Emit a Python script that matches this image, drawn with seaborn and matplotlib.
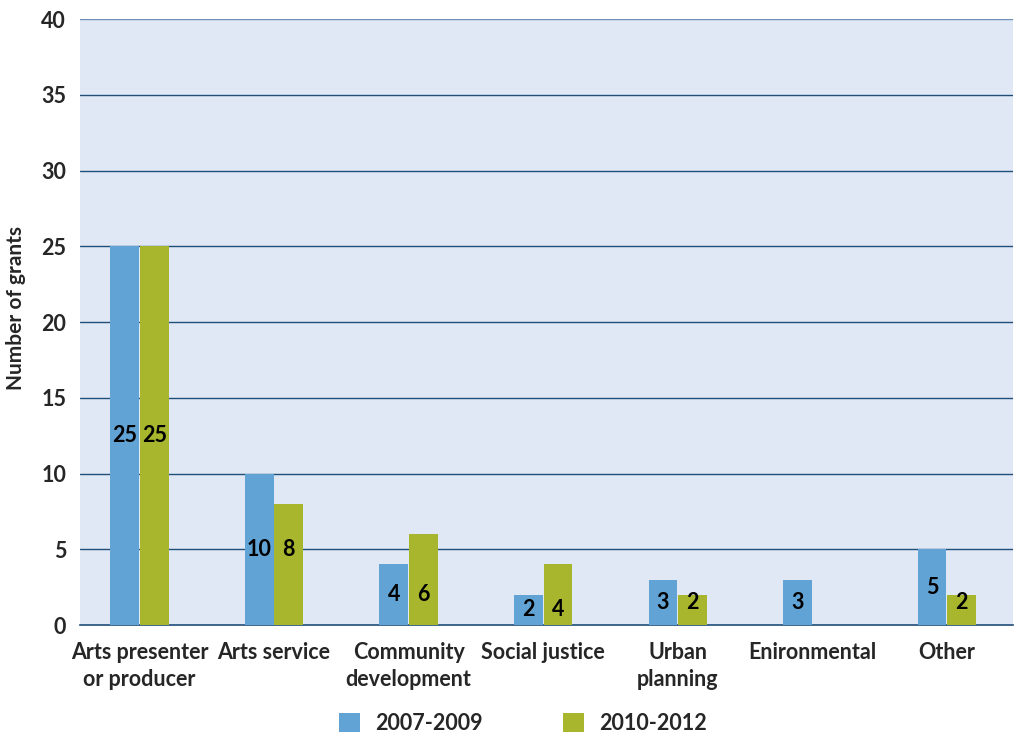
import numpy as np
import pandas as pd
import matplotlib.pyplot as plt
import seaborn as sns

categories = ["Arts presenter\nor producer", "Arts service", "Community\ndevelopment",
              "Social justice", "Urban\nplanning", "Enironmental", "Other"]
grants_0709 = [25, 10, 4, 2, 3, 3, 5]
grants_1012 = [25, 8, 6, 4, 2, np.nan, 2]
periods = ["2007-2009", "2010-2012"]

df = pd.DataFrame({
    "Category": categories * 2,
    "Period": [periods[0]] * len(categories) + [periods[1]] * len(categories),
    "Grants": grants_0709 + grants_1012,
})

sns.set_style("white")
plt.rcParams["font.family"] = ["Lato", "DejaVu Sans"]
fs = 15.5

fig = plt.figure(figsize=(10.26, 7.38), dpi=100)
ax = fig.add_axes([0.078, 0.153, 0.909, 0.821])
ax.set_facecolor("#e1e8f5")

sns.barplot(data=df, x="Category", y="Grants", hue="Period",
            palette=["#62a3d6", "#a8b62e"], width=0.44, gap=0.03,
            saturation=1, linewidth=0, ax=ax, zorder=3)

# value labels, placed at the middle height of the first bar in each group
for cont in ax.containers:
    for i, (bar, v) in enumerate(zip(cont, cont.datavalues)):
        if np.isnan(v) or v == 0:
            continue
        ax.text(bar.get_x() + bar.get_width() / 2, grants_0709[i] / 2, f"{v:g}",
                ha="center", va="center", fontsize=fs, fontweight="bold",
                color="black", zorder=4)

ax.set_ylim(0, 40)
ax.set_xlim(-0.442, 6.49)
ax.set_yticks(range(0, 41, 5))
for y in range(5, 41, 5):
    ax.axhline(y, color="#6b8fb5" if y == 40 else "#1f4e79", lw=1, zorder=1)

for s in ["top", "right", "left"]:
    ax.spines[s].set_visible(False)
ax.spines["bottom"].set_color("#1f4e79")
ax.spines["bottom"].set_linewidth(1.2)

ax.tick_params(axis="both", length=0, labelsize=fs)
ax.tick_params(axis="x", pad=12)
ax.tick_params(axis="y", pad=10)
for t in ax.get_xticklabels():
    t.set_fontweight("bold")
    t.set_linespacing(1.35)
for t in ax.get_yticklabels():
    t.set_fontweight("bold")
ax.set_xlabel("")
ax.set_ylabel("Number of grants", fontsize=15, fontweight="bold")
ax.yaxis.set_label_coords(-0.058, 0.523)

leg = ax.legend(loc="center", bbox_to_anchor=(0.475, -0.162), ncol=2,
                frameon=False, fontsize=fs, handlelength=1.0, handleheight=1.0,
                columnspacing=3.7, handletextpad=0.7)
for t in leg.get_texts():
    t.set_fontweight("bold")

plt.savefig("out.png", dpi=100)
